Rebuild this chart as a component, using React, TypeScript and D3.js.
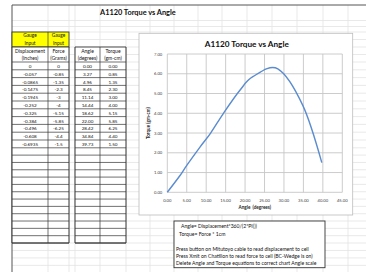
import React from 'react';
import * as d3 from 'd3';

const displacement = [0, -0.057, -0.0865, -0.1475, -0.1945, -0.252, -0.325, -0.384, -0.496, -0.608, -0.6935];
const force = [0, -0.85, -1.35, -2.3, -3, -4, -5.15, -5.85, -6.25, -4.4, -1.5];
const angle = [0, 3.27, 4.96, 8.45, 11.14, 14.44, 18.62, 22.0, 28.42, 34.84, 39.73];
const torque = [0, 0.85, 1.35, 2.3, 3.0, 4.0, 5.15, 5.85, 6.25, 4.4, 1.5];
const xTicks = [0, 5, 10, 15, 20, 25, 30, 35, 40, 45];
const yTicks = [0, 1, 2, 3, 4, 5, 6, 7];
const sheetTitle = 'A1120 Torque vs Angle';
const chartTitle = 'A1120 Torque vs Angle';
const xAxisTitle = 'Angle  (degrees)';
const yAxisTitle = 'Torque (gm-cm)';
const leftHeaders = [['Displacement', '(Inches)'], ['Force', '(Grams)']];
const rightHeaders = [['Angle', '(degrees)'], ['Torque', '(gm-cm)']];
const gaugeLabel = ['Gauge', 'Input'];
const notes = [
  'Angle= Displacement*360/(2*PI())',
  'Torque= Force * 1cm',
  '',
  'Press button on Mitutoyo cable to read displacement to cell',
  'Press Xmit on Chatillon to read force to cell (BC-Wedge is on)',
  'Delete Angle and Torque equations to correct chart Angle scale',
];

const FONT = 'Lato, "Open Sans", sans-serif';
const W = 366;
const H = 272;

export default function App() {
  const colLines = [48, 69, 75, 100, 126, 150, 174, 198, 222, 247, 272, 297, 323, 348];
  const dataTop = 62;
  const dataH = 7.8;
  const dataBottom = dataTop + dataH * angle.length;
  const emptyRows = 13;
  const tableBottom = 243;
  const emptyH = (tableBottom - dataBottom) / emptyRows;
  const rowLines: number[] = [20.5, 26.5, 32, 39.5, 47, 54.5];
  for (let i = 0; i <= angle.length; i++) rowLines.push(dataTop + i * dataH);
  for (let i = 1; i <= emptyRows; i++) rowLines.push(dataBottom + i * emptyH);
  for (let y = tableBottom + 7.45; y < H; y += 7.45) rowLines.push(y);
  const tableRowLines: number[] = [];
  for (let i = 0; i <= angle.length; i++) tableRowLines.push(dataTop + i * dataH);
  for (let i = 1; i <= emptyRows; i++) tableRowLines.push(dataBottom + i * emptyH);

  const box = { x0: 139, y0: 33.3, x1: 352.7, y1: 215 };
  const x = d3.scaleLinear().domain([0, 45]).range([167.3, 342.3]);
  const y = d3.scaleLinear().domain([0, 7]).range([192.3, 54]);
  const pts = angle.map((a, i) => [a, torque[i]] as [number, number]);
  const line = d3
    .line<[number, number]>()
    .x((d) => x(d[0]))
    .y((d) => y(d[1]))
    .curve(d3.curveCardinal.tension(0));
  const path = line(pts) || '';

  const dark = '#333';
  const grid = '#e3e3e3';

  const leftCols = [12, 48, 69];
  const rightCols = [75, 100, 126];

  return (
    <svg
      width={W}
      height={H}
      style={{ position: 'absolute', left: 0, top: 0, background: '#fff' }}
      fontFamily={FONT}
    >
      <rect x={0} y={0} width={W} height={H} fill="#fff" />
      {rowLines.map((ry, i) => (
        <line key={'r' + i} x1={12} x2={W} y1={ry} y2={ry} stroke={grid} strokeWidth={0.8} />
      ))}
      {colLines.map((cx, i) => (
        <line key={'c' + i} x1={cx} x2={cx} y1={5} y2={H} stroke={grid} strokeWidth={0.8} />
      ))}
      <line x1={12} x2={W} y1={5} y2={5} stroke="#555" strokeWidth={1} />
      <line x1={12} x2={12} y1={5} y2={H} stroke="#555" strokeWidth={1} />
      <text x={100} y={12.3} dominantBaseline="central" fontSize={7.4} fontWeight="bold" fill="#111">
        {sheetTitle}
      </text>

      <rect x={12} y={32} width={57} height={15} fill="#ffff00" stroke={dark} strokeWidth={0.9} />
      <line x1={48} x2={48} y1={32} y2={47} stroke={dark} strokeWidth={0.7} />
      {[30, 58.5].map((cx, i) => (
        <g key={'g' + i}>
          <text x={cx} y={35.3} textAnchor="middle" dominantBaseline="central" fontSize={4.8} fill="#111">
            {gaugeLabel[0]}
          </text>
          <text x={cx} y={42.7} textAnchor="middle" dominantBaseline="central" fontSize={4.8} fill="#111">
            {gaugeLabel[1]}
          </text>
        </g>
      ))}

      {[leftCols, rightCols].map((cols, ti) => (
        <g key={'t' + ti}>
          <rect x={cols[0]} y={47} width={cols[2] - cols[0]} height={tableBottom - 47} fill="#fff" />
          {tableRowLines.map((ry, i) => (
            <line key={i} x1={cols[0]} x2={cols[2]} y1={ry} y2={ry} stroke={dark} strokeWidth={0.7} />
          ))}
          <line x1={cols[0]} x2={cols[2]} y1={47} y2={47} stroke={dark} strokeWidth={0.9} />
          <line x1={cols[0]} x2={cols[2]} y1={tableBottom} y2={tableBottom} stroke={dark} strokeWidth={1.2} />
          {cols.map((cx, i) => (
            <line key={'v' + i} x1={cx} x2={cx} y1={47} y2={tableBottom} stroke={dark} strokeWidth={i === 1 ? 0.7 : 1} />
          ))}
          {(ti === 0 ? leftHeaders : rightHeaders).map((hd, i) => {
            const cx = (cols[i] + cols[i + 1]) / 2;
            return (
              <g key={'h' + i}>
                <text x={cx} y={51} textAnchor="middle" dominantBaseline="central" fontSize={5} fill="#111">
                  {hd[0]}
                </text>
                <text x={cx} y={58.3} textAnchor="middle" dominantBaseline="central" fontSize={5} fill="#111">
                  {hd[1]}
                </text>
              </g>
            );
          })}
          {angle.map((_, r) => {
            const vals =
              ti === 0
                ? [String(displacement[r]), String(force[r])]
                : [angle[r].toFixed(2), torque[r].toFixed(2)];
            return vals.map((v, c) => (
              <text
                key={r + '-' + c}
                x={(cols[c] + cols[c + 1]) / 2}
                y={dataTop + dataH * (r + 0.5)}
                textAnchor="middle"
                dominantBaseline="central"
                fontSize={4.6}
                fill="#111"
              >
                {v}
              </text>
            ));
          })}
        </g>
      ))}

      <rect
        x={box.x0}
        y={box.y0}
        width={box.x1 - box.x0}
        height={box.y1 - box.y0}
        fill="#fff"
        stroke="#bcbcbc"
        strokeWidth={0.8}
      />
      <text
        x={(box.x0 + box.x1) / 2 + 1}
        y={44}
        textAnchor="middle"
        dominantBaseline="central"
        fontSize={8.2}
        fontWeight="bold"
        fill="#111"
      >
        {chartTitle}
      </text>
      {xTicks.map((t) => (
        <line key={'gx' + t} x1={x(t)} x2={x(t)} y1={y(7)} y2={y(0)} stroke="#c6c6c6" strokeWidth={0.9} />
      ))}
      {yTicks.map((t) => (
        <line key={'gy' + t} x1={x(0)} x2={x(45)} y1={y(t)} y2={y(t)} stroke="#c6c6c6" strokeWidth={0.9} />
      ))}
      {yTicks.map((t) => (
        <text
          key={'ly' + t}
          x={x(0) - 5}
          y={y(t)}
          textAnchor="end"
          dominantBaseline="central"
          fontSize={4.2}
          fill="#404040"
        >
          {t.toFixed(2)}
        </text>
      ))}
      {xTicks.map((t) => (
        <text
          key={'lx' + t}
          x={x(t)}
          y={200}
          textAnchor="middle"
          dominantBaseline="central"
          fontSize={4.2}
          fill="#404040"
        >
          {t.toFixed(2)}
        </text>
      ))}
      <text
        x={(x(0) + x(45)) / 2}
        y={206.7}
        textAnchor="middle"
        dominantBaseline="central"
        fontSize={4.6}
        fontWeight="bold"
        fill="#222"
        style={{ whiteSpace: 'pre' }}
      >
        {xAxisTitle}
      </text>
      <text
        transform={`translate(148.3, ${(y(0) + y(7)) / 2}) rotate(-90)`}
        textAnchor="middle"
        dominantBaseline="central"
        fontSize={4.6}
        fontWeight="bold"
        fill="#222"
      >
        {yAxisTitle}
      </text>
      <path d={path} fill="none" stroke="#5a8ccf" strokeWidth={1.4} />

      <rect x={174} y={221} width={151} height={46.7} fill="#fff" stroke={dark} strokeWidth={0.9} />
      {notes.map((n, i) => {
        const ys = [225.7, 233.7, 241, 248.5, 255.9, 263.3];
        const xs = [181, 179, 176, 176, 176, 176];
        return (
          <text key={'n' + i} x={xs[i]} y={ys[i]} dominantBaseline="central" fontSize={5.1} fill="#111">
            {n}
          </text>
        );
      })}
    </svg>
  );
}
